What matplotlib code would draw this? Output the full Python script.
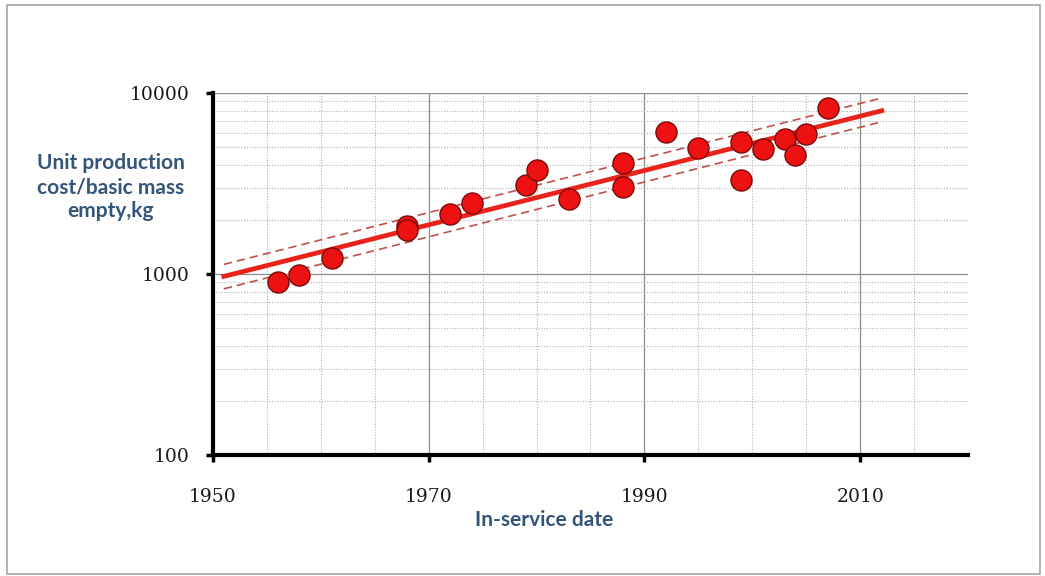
import matplotlib
matplotlib.use("Agg")
import matplotlib.pyplot as plt
from matplotlib.ticker import FixedLocator, NullFormatter
from matplotlib.patches import Rectangle

years = [1956, 1958, 1961, 1968, 1968, 1972, 1974, 1979, 1980, 1983,
         1988, 1988, 1992, 1995, 1999, 1999, 2001, 2003, 2004, 2005, 2007]
costs = [900, 990, 1220, 1850, 1760, 2150, 2480, 3120, 3740, 2610,
         4090, 3040, 6100, 4960, 5330, 3310, 4900, 5560, 4540, 5970, 8300]

trend_years = [1951, 2012]
trend_values = [970, 7980]
upper_values = [1130, 9380]
lower_values = [828, 6935]

x_ticks = [1950, 1970, 1990, 2010]
y_ticks = [100, 1000, 10000]
y_tick_labels = ["100", "1000", "10000"]

fig = plt.figure(figsize=(10.45, 5.76), dpi=100)
fig.patches.append(Rectangle((7/1045, 1-574/576), 1033/1045, 569/576,
                             transform=fig.transFigure, fill=False,
                             edgecolor="#a6a6a6", linewidth=1.2))
ax = fig.add_axes([213/1045, 1-455/576, 755/1045, 362/576])

ax.set_yscale("log")
ax.set_xlim(1950, 2020)
ax.set_ylim(100, 10000)

ax.xaxis.set_major_locator(FixedLocator(x_ticks))
ax.xaxis.set_minor_locator(FixedLocator(list(range(1955, 2021, 5))))
ax.yaxis.set_major_locator(FixedLocator(y_ticks))
minor_y = [m * d for d in (100, 1000) for m in range(2, 10)]
ax.yaxis.set_minor_locator(FixedLocator(minor_y))
ax.yaxis.set_minor_formatter(NullFormatter())
ax.set_yticklabels(y_tick_labels)

ax.grid(which="major", color="#8c8c8c", linewidth=0.9, linestyle="-")
ax.grid(which="minor", color="#b0b0b0", linewidth=0.8, linestyle=(0, (1, 1.5)))
ax.set_axisbelow(True)

for s in ("top", "right"):
    ax.spines[s].set_visible(False)
for s in ("left", "bottom"):
    ax.spines[s].set_linewidth(3)
    ax.spines[s].set_color("black")

ax.tick_params(which="major", direction="out", length=5, width=2.5, color="black",
               labelsize=13.5)
ax.tick_params(axis="x", pad=19)
ax.tick_params(axis="y", pad=12)
ax.tick_params(which="minor", length=0)
for lab in ax.get_xticklabels() + ax.get_yticklabels():
    lab.set_family("DejaVu Serif")
    lab.set_color("#1a1a1a")

ax.plot(trend_years, upper_values, color="#c0504d", linestyle=(0, (5, 3)), linewidth=1.2, zorder=3)
ax.plot(trend_years, lower_values, color="#c0504d", linestyle=(0, (5, 3)), linewidth=1.2, zorder=3)
ax.plot(trend_years, trend_values, color="#e8231c", linewidth=3.4, zorder=3)

ax.scatter(years, costs, s=230, color="#ee1111", edgecolors="#7a0a0a", linewidths=1.0, zorder=4)

fig.text(111/1045, 1-187/576, "Unit production\ncost/basic mass\nempty,kg",
         ha="center", va="center", fontsize=15, family="Lato", fontweight="bold",
         color="#34557a", linespacing=1.22)
fig.text(544/1045, 1-520/576, "In-service date", ha="center", va="center",
         fontsize=15, family="Lato", fontweight="bold", color="#34557a")

fig.savefig("out.png", dpi=100)
